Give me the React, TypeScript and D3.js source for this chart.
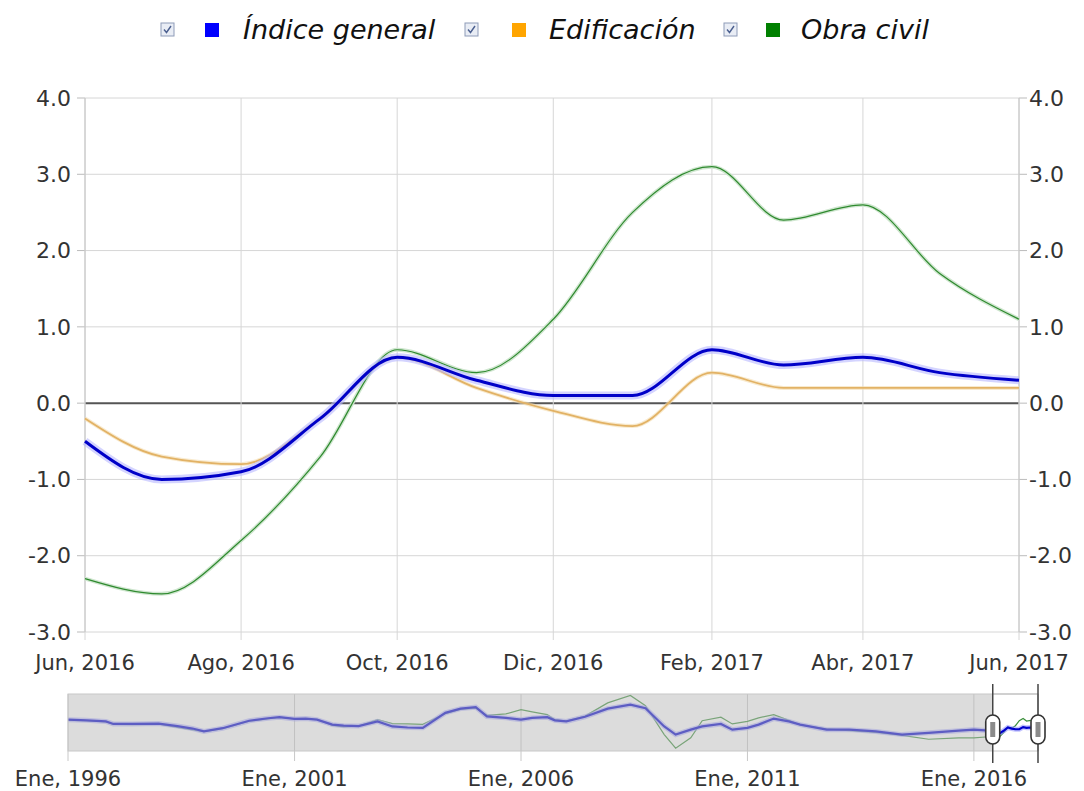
import React from 'react';
import * as d3 from 'd3';

// Main chart: monthly values Jun 2016 - Jun 2017
const months = ['2016-06', '2016-07', '2016-08', '2016-09', '2016-10', '2016-11', '2016-12',
  '2017-01', '2017-02', '2017-03', '2017-04', '2017-05', '2017-06'];
const indiceGeneral = [-0.5, -1.0, -0.9, -0.2, 0.6, 0.3, 0.1, 0.1, 0.7, 0.5, 0.6, 0.4, 0.3];
const edificacion = [-0.2, -0.7, -0.8, -0.2, 0.6, 0.2, -0.1, -0.3, 0.4, 0.2, 0.2, 0.2, 0.2];
const obraCivil = [-2.3, -2.5, -1.8, -0.7, 0.7, 0.4, 1.1, 2.5, 3.1, 2.4, 2.6, 1.7, 1.1];

const yTicks = [-3, -2, -1, 0, 1, 2, 3, 4];
const monthNames = ['Ene', 'Feb', 'Mar', 'Abr', 'May', 'Jun', 'Jul', 'Ago', 'Sep', 'Oct', 'Nov', 'Dic'];

// Navigator: long history 1996 - 2017
const navDates = ['1996-01', '1996-06', '1996-11', '1997-01', '1997-06', '1998-01', '1998-06', '1998-10',
  '1999-01', '1999-06', '2000-01', '2000-06', '2000-09', '2001-01', '2001-04', '2001-07', '2001-11',
  '2002-02', '2002-06', '2002-11', '2003-03', '2003-07', '2003-11', '2004-05', '2004-09', '2005-01',
  '2005-04', '2005-09', '2006-01', '2006-04', '2006-08', '2006-10', '2007-01', '2007-06', '2007-12',
  '2008-06', '2008-10', '2009-03', '2009-06', '2009-10', '2010-01', '2010-06', '2010-09', '2011-01',
  '2011-04', '2011-08', '2011-12', '2012-03', '2012-10', '2013-04', '2013-11', '2014-06', '2015-01',
  '2015-09', '2016-01', '2016-05'];
const navGeneral = [2.8, 2.6, 2.3, 1.6, 1.6, 1.7, 1.0, 0.3,
  -0.5, 0.4, 2.5, 3.2, 3.5, 3.0, 3.1, 2.8, 1.4,
  1.1, 1.0, 2.3, 0.9, 0.6, 0.5, 4.7, 5.9, 6.3,
  3.7, 3.3, 2.8, 3.3, 3.5, 2.6, 2.3, 3.6, 5.9,
  7.0, 6.0, 0.9, -1.4, 0.0, 0.9, 1.6, 0.0, 0.5,
  1.4, 3.1, 2.3, 1.4, 0.0, 0.0, -0.5, -1.4, -0.9,
  -0.3, 0.0, -0.3];
const navCivil = [2.6, 2.5, 2.2, 1.5, 1.4, 1.5, 0.6, -0.1,
  -0.6, 0.3, 2.4, 3.0, 3.4, 3.0, 3.0, 2.9, 1.2,
  0.8, 1.0, 2.8, 1.7, 1.6, 1.5, 4.5, 5.7, 6.0,
  4.0, 4.4, 5.6, 5.0, 4.2, 2.8, 2.4, 3.8, 7.5,
  9.6, 6.7, -1.4, -5.2, -2.3, 2.5, 3.5, 1.6, 2.3,
  3.3, 4.2, 2.6, 1.3, 0.2, -0.3, -0.8, -1.6, -2.7,
  -2.3, -2.3, -2.0];
const navTickYears = [1996, 2001, 2006, 2011, 2016];

const parse = d3.timeParse('%Y-%m');
const FONT = '"DejaVu Sans", Verdana, sans-serif';

const fmtDate = (d: Date) => `${monthNames[d.getMonth()]}, ${d.getFullYear()}`;

const Checkbox = ({ x, y }: { x: number; y: number }) => (
  <g transform={`translate(${x},${y})`}>
    <rect x={0} y={0} width={13} height={13} fill="#e9edf5" stroke="#8e9bb8" strokeWidth={1} />
    <path d="M3,6.5 L5.5,9.5 L10,3" fill="none" stroke="#4b5f8f" strokeWidth={1.4} />
  </g>
);

export default function App() {
  const W = 1084;
  const H = 791;
  const plot = { left: 85, right: 1019, top: 98, bottom: 632 };

  const dates = months.map(m => parse(m) as Date);
  const x = d3.scaleTime().domain([dates[0], dates[dates.length - 1]]).range([plot.left, plot.right]);
  const y = d3.scaleLinear().domain([-3, 4]).range([plot.bottom, plot.top]);
  // one tick every two months, starting from the first month
  const xTicks = dates.filter((_, i) => i % 2 === 0);

  const line = (vals: number[]) =>
    d3.line<number>()
      .x((_, i) => x(dates[i]))
      .y(v => y(v))
      .curve(d3.curveMonotoneX)(vals) || '';

  // navigator
  const nav = { left: 68, right: 1038, top: 694, bottom: 751 };
  const navAllDates = navDates.map(m => parse(m) as Date).concat(dates);
  const nx = d3.scaleTime().domain([navAllDates[0], dates[dates.length - 1]]).range([nav.left, nav.right]);
  const ny = d3.scaleLinear().domain([-6, 10]).range([nav.bottom, nav.top]);
  const navGen = navGeneral.concat(indiceGeneral);
  const navCiv = navCivil.concat(obraCivil);
  const navLine = (vals: number[]) =>
    d3.line<number>()
      .x((_, i) => nx(navAllDates[i]))
      .y(v => ny(v))(vals) || '';
  const selL = nx(dates[0]);
  const selR = nx(dates[dates.length - 1]);

  const legendItems = [
    { cb: 161, sq: 205, tx: 243, color: '#0000ff', label: 'Índice general' },
    { cb: 465, sq: 512, tx: 549, color: '#ffa500', label: 'Edificación' },
    { cb: 724, sq: 766, tx: 801, color: '#008000', label: 'Obra civil' },
  ];

  return (
    <svg width={W} height={H} style={{ position: 'absolute', left: 0, top: 0, background: '#fff' }}
      fontFamily={FONT}>
      <defs>
        <clipPath id="navclip">
          <rect x={nav.left} y={nav.top} width={nav.right - nav.left} height={nav.bottom - nav.top} />
        </clipPath>
      </defs>

      {/* legend */}
      {legendItems.map(it => (
        <g key={it.label}>
          <Checkbox x={it.cb} y={23} />
          <rect x={it.sq} y={23} width={14} height={14} fill={it.color} />
          <text x={it.tx} y={39} fontSize={27} fontStyle="italic" fill="#111">{it.label}</text>
        </g>
      ))}

      {/* grid */}
      {yTicks.map(t => (
        <g key={'y' + t}>
          <line x1={plot.left} x2={plot.right} y1={y(t)} y2={y(t)}
            stroke={t === 0 ? '#555' : '#d6d6d6'} strokeWidth={t === 0 ? 2 : 1} />
          <line x1={plot.left - 8} x2={plot.left} y1={y(t)} y2={y(t)} stroke="#bbb" />
          <line x1={plot.right} x2={plot.right + 8} y1={y(t)} y2={y(t)} stroke="#bbb" />
          <text x={plot.left - 14} y={y(t)} dy="0.35em" textAnchor="end" fontSize={22} fill="#333">
            {t.toFixed(1)}
          </text>
          <text x={plot.right + 10} y={y(t)} dy="0.35em" textAnchor="start" fontSize={22} fill="#333">
            {t.toFixed(1)}
          </text>
        </g>
      ))}
      {xTicks.map(t => (
        <g key={'x' + t.getTime()}>
          <line x1={x(t)} x2={x(t)} y1={plot.top} y2={plot.bottom + 8} stroke="#d6d6d6" />
          <text x={x(t)} y={plot.bottom + 38} textAnchor="middle" fontSize={21} fill="#333">
            {fmtDate(t)}
          </text>
        </g>
      ))}
      <line x1={plot.left} x2={plot.left} y1={plot.top} y2={plot.bottom} stroke="#c4c4c4" />
      <line x1={plot.right} x2={plot.right} y1={plot.top} y2={plot.bottom} stroke="#c4c4c4" />

      {/* series */}
      <path d={line(obraCivil)} fill="none" stroke="#cfe6cf" strokeWidth={4} />
      <path d={line(obraCivil)} fill="none" stroke="#2f8a2f" strokeWidth={1.2} />
      <path d={line(edificacion)} fill="none" stroke="#f3dcae" strokeWidth={4} opacity={0.6} />
      <path d={line(edificacion)} fill="none" stroke="#e2b265" strokeWidth={1.8} />
      <path d={line(indiceGeneral)} fill="none" stroke="#b8b8ff" strokeWidth={8} opacity={0.6} />
      <path d={line(indiceGeneral)} fill="none" stroke="#0000c8" strokeWidth={3} />

      {/* navigator */}
      {navTickYears.map(yr => {
        const d = new Date(yr, 0, 1);
        return (
          <g key={'n' + yr}>
            <line x1={nx(d)} x2={nx(d)} y1={nav.top} y2={nav.bottom + 10} stroke="#c8c8c8" />
            <text x={nx(d)} y={786} textAnchor="middle" fontSize={21} fill="#333">{fmtDate(d)}</text>
          </g>
        );
      })}
      <g clipPath="url(#navclip)">
        <path d={navLine(navCiv)} fill="none" stroke="#3a8f3a" strokeWidth={1.2} />
        <path d={navLine(navGen)} fill="none" stroke="#9a9aff" strokeWidth={5} opacity={0.6} />
        <path d={navLine(navGen)} fill="none" stroke="#0000cc" strokeWidth={2.2} />
      </g>
      <rect x={nav.left} y={nav.top} width={selL - nav.left} height={nav.bottom - nav.top}
        fill="#b9b9b9" opacity={0.5} />
      <rect x={nav.left} y={nav.top} width={nav.right - nav.left} height={nav.bottom - nav.top}
        fill="none" stroke="#c8c8c8" />
      <path d={`M${selL},${nav.top} H${selR} V${nav.bottom}`} fill="none" stroke="#bdbdbd" />
      {[selL, selR].map(hx => (
        <g key={'h' + hx}>
          <line x1={hx} x2={hx} y1={nav.top - 10} y2={nav.bottom + 12} stroke="#444" strokeWidth={1.5} />
          <rect x={hx - 7} y={715} width={14} height={29} rx={7} fill="#fff" stroke="#333" strokeWidth={1.6} />
          <rect x={hx - 2.5} y={722} width={5} height={15} fill="#8a8a8a" />
        </g>
      ))}
    </svg>
  );
}
